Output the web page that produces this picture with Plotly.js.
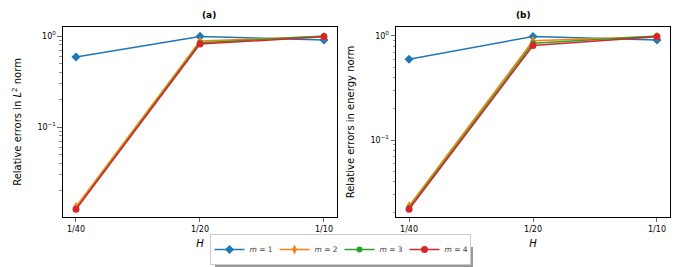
<!DOCTYPE html>
<html><head><meta charset="utf-8">
<script src="https://cdn.plot.ly/plotly-3.0.1.min.js"></script>
<style>body{margin:0;padding:0;background:#fff}#plot{width:680px;height:267px}</style>
</head><body><div id="plot"></div>
<script>
const H = ["1/40", "1/20", "1/10"];
const seriesNames = ["<i>m</i> = 1", "<i>m</i> = 2", "<i>m</i> = 3", "<i>m</i> = 4"];
// panel (a): relative errors in L2 norm
const l2_m1 = [0.588, 0.99, 0.905];
const l2_m2 = [0.0133, 0.88, 0.99];
const l2_m3 = [0.0126, 0.845, 1.0];
const l2_m4 = [0.0125, 0.815, 0.98];
// panel (b): relative errors in energy norm
const en_m1 = [0.597, 0.99, 0.915];
const en_m2 = [0.0233, 0.90, 0.99];
const en_m3 = [0.0222, 0.85, 1.0];
const en_m4 = [0.0216, 0.81, 0.985];

const colors = ["#1f77b4", "#ff7f0e", "#2ca02c", "#d62728"];
const symbols = ["diamond", "diamond-tall", "circle", "circle"];
const sizes = [7, 7, 6, 7];

const dataA = [l2_m1, l2_m2, l2_m3, l2_m4];
const dataB = [en_m1, en_m2, en_m3, en_m4];
const traces = [];
dataA.forEach((ys, i) => traces.push({
  x: H, y: ys, type: "scatter", mode: "lines+markers", name: seriesNames[i],
  xaxis: "x", yaxis: "y", legendgroup: "g" + i,
  line: {color: colors[i], width: 1.5},
  marker: {color: colors[i], symbol: symbols[i], size: sizes[i]}
}));
dataB.forEach((ys, i) => traces.push({
  x: H, y: ys, type: "scatter", mode: "lines+markers", name: seriesNames[i],
  xaxis: "x2", yaxis: "y2", legendgroup: "g" + i, showlegend: false,
  line: {color: colors[i], width: 1.5},
  marker: {color: colors[i], symbol: symbols[i], size: sizes[i]}
}));

const minorVals = [];
[0.01, 0.1, 1].forEach(d => { for (let k = 2; k <= 9; k++) minorVals.push(d * k); });

const font = {family: "DejaVu Sans", size: 8, color: "#000"};
const tfont = {family: "DejaVu Sans", size: 10, color: "#000"};
function xax(dom, anchor) {
  return {domain: dom, anchor: anchor, type: "category", range: [-0.105, 2.105],
    showline: true, mirror: true, linecolor: "#000", linewidth: 1,
    ticks: "outside", ticklen: 4.5, tickwidth: 0.8, showgrid: false, zeroline: false,
    tickfont: font, automargin: false, title: {text: "<i>H</i>", font: tfont, standoff: 6}};
}
function yax(dom, anchor, range, title) {
  return {domain: dom, anchor: anchor, type: "log", range: range,
    showline: true, mirror: true, linecolor: "#000", linewidth: 1,
    ticks: "outside", ticklen: 4.5, tickwidth: 0.8, showgrid: false, zeroline: false,
    tickmode: "array", tickvals: [0.1, 1], ticktext: ["10<sup>−1</sup>", "10<sup>0</sup>"],
    tickfont: font, automargin: false,
    minor: {tickmode: "array", tickvals: minorVals, ticks: "outside", ticklen: 2.5, tickwidth: 0.6, showgrid: false},
    title: {text: title, font: tfont, standoff: 13}};
}
const yd = [0.1873, 0.8989];
const layout = {
  width: 680, height: 267, margin: {l: 0, r: 0, t: 0, b: 0, autoexpand: false},
  paper_bgcolor: "#fff", plot_bgcolor: "#fff", showlegend: true,
  xaxis: xax([0.0926, 0.4956], "y"),
  yaxis: yax(yd, "x", [Math.log10(0.01026), Math.log10(1.256)], "Relative errors in <i>L</i><sup>2</sup> norm"),
  xaxis2: xax([0.5824, 0.9853], "y2"),
  yaxis2: yax(yd, "x2", [Math.log10(0.0182), Math.log10(1.22)], "Relative errors in energy norm"),
  legend: {orientation: "h", x: 0.5, xanchor: "center", y: 2/267, yanchor: "bottom",
    bgcolor: "#fff", bordercolor: "#cccccc", borderwidth: 1,
    font: {family: "DejaVu Sans", size: 7.5}, itemwidth: 30, entrywidth: 20, tracegroupgap: 0},
  annotations: [
    {text: "<b>(a)</b>", xref: "paper", yref: "paper", x: 0.2941, y: 1 - 15/267, yanchor: "middle", showarrow: false, font: {family: "DejaVu Sans", size: 9, color: "#000"}},
    {text: "<b>(b)</b>", xref: "paper", yref: "paper", x: 0.7838, y: 1 - 15/267, yanchor: "middle", showarrow: false, font: {family: "DejaVu Sans", size: 9, color: "#000"}}
  ],
  shapes: [
    {type: "rect", xref: "paper", yref: "paper", x0: 215/680, x1: 473/680, y0: 0, y1: (267-247)/267,
     fillcolor: "#999", line: {width: 0}, layer: "below"}
  ]
};
Plotly.newPlot("plot", traces, layout, {staticPlot: true, displayModeBar: false});
</script></body></html>
